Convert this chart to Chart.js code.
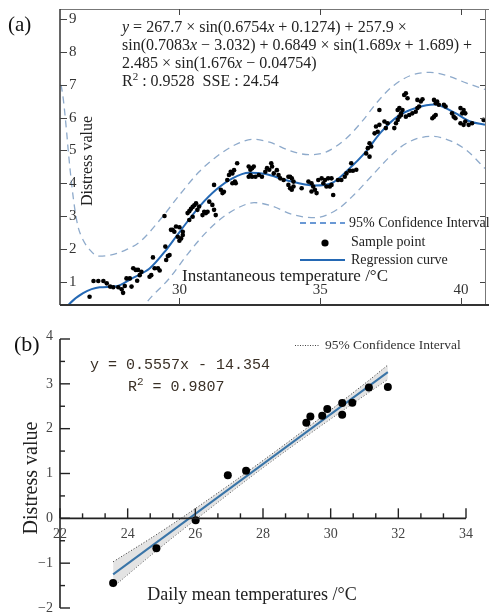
<!DOCTYPE html>
<html>
<head>
<meta charset="utf-8">
<script src="https://cdn.jsdelivr.net/npm/chart.js@4.4.1/dist/chart.umd.min.js"></script>
<style>
  html, body { margin: 0; padding: 0; background: #fff; }
  #wrap { position: relative; width: 489px; height: 612px; overflow: hidden; }
  canvas { position: absolute; left: 0; }
  #chartA { top: 0; }
  #chartB { top: 318px; }
</style>
</head>
<body>
<div id="wrap">
  <canvas id="chartA" width="489" height="315"></canvas>
  <canvas id="chartB" width="489" height="294"></canvas>
</div>
<script>
// --- (a) instantaneous temperature vs distress value ---
const sampleTempA = [26.81, 26.95, 27.12, 27.30, 27.42, 27.54, 27.65, 27.83, 27.95, 28.00, 28.06, 28.12, 28.24, 28.30, 28.36, 28.45, 28.50, 28.53, 28.59, 28.65,
  28.94, 29.00, 29.06, 29.12, 29.24, 29.30, 29.47, 29.50, 29.53, 29.59, 29.65, 29.70, 29.76, 29.82, 29.88, 29.94, 30.00, 30.00, 30.06, 30.12,
  30.12, 30.29, 30.35, 30.35, 30.41, 30.47, 30.47, 30.53, 30.59, 30.64, 30.70, 30.82, 30.88, 30.94, 31.00, 31.06, 31.17, 31.23, 31.23, 31.29,
  31.47, 31.53, 31.58, 31.70, 31.76, 31.82, 31.88, 31.88, 31.94, 31.97, 32.00, 32.05, 32.46, 32.46, 32.52, 32.52, 32.58, 32.58, 32.64, 32.70,
  32.82, 32.93, 33.05, 33.11, 33.19, 33.26, 33.29, 33.35, 33.46, 33.52, 33.58, 33.70, 33.87, 33.87, 33.93, 33.93, 33.99, 33.99, 34.05, 34.05,
  34.34, 34.58, 34.69, 34.69, 34.75, 34.81, 34.87, 34.93, 35.05, 35.11, 35.17, 35.22, 35.28, 35.34, 35.40, 35.40, 35.46, 35.63, 35.75, 35.87,
  35.93, 36.05, 36.10, 36.16, 36.28, 36.63, 36.69, 36.75, 36.75, 36.81, 36.93, 36.98, 37.04, 37.10, 37.10, 37.28, 37.33, 37.39, 37.63, 37.69,
  37.75, 37.75, 37.81, 37.81, 37.87, 37.87, 37.92, 37.98, 38.04, 38.04, 38.10, 38.16, 38.27, 38.39, 38.45, 38.45, 38.51, 38.57, 38.63, 38.98,
  39.04, 39.04, 39.10, 39.10, 39.15, 39.21, 39.39, 39.45, 39.68, 39.74, 39.80, 39.98, 39.98, 40.04, 40.09, 40.09, 40.15, 40.15, 40.27, 40.39, 40.80];
const sampleDistressA = [0.54, 1.02, 1.02, 1.02, 0.95, 0.85, 0.83, 0.83, 0.77, 0.66, 0.87, 1.10, 1.10, 0.85, 1.41, 1.36, 1.03, 1.36, 1.20, 1.30,
  1.15, 1.20, 1.74, 1.41, 1.41, 1.34, 3.00, 2.07, 1.66, 1.78, 1.81, 2.58, 2.58, 2.52, 2.68, 2.37, 2.25, 2.66, 2.32, 2.42,
  2.52, 3.09, 2.88, 3.15, 3.22, 2.98, 3.28, 3.33, 3.39, 3.19, 3.29, 3.03, 3.13, 3.09, 3.13, 3.44, 3.34, 3.19, 3.95, 3.03,
  3.80, 3.70, 3.74, 4.10, 4.25, 4.35, 4.30, 4.00, 4.40, 4.05, 4.00, 4.61, 4.51, 4.20, 4.41, 4.25, 4.46, 4.20, 4.51, 4.20,
  4.25, 4.20, 4.35, 4.46, 4.41, 4.61, 4.51, 4.30, 4.40, 4.25, 4.15, 4.10, 3.95, 4.20, 3.85, 4.20, 3.80, 4.15, 3.90, 4.05,
  3.85, 4.05, 4.00, 3.75, 3.90, 3.80, 3.70, 4.10, 4.15, 4.00, 4.10, 3.90, 4.15, 3.90, 4.15, 3.95, 3.64, 4.10, 4.10, 4.20,
  4.30, 4.38, 4.61, 4.38, 4.41, 4.91, 5.07, 5.22, 4.81, 5.12, 5.52, 5.73, 5.57, 5.78, 6.23, 5.88, 5.68, 5.83, 5.68, 5.83,
  5.93, 6.23, 6.03, 6.29, 6.08, 6.13, 6.23, 6.69, 6.74, 6.03, 6.59, 6.08, 6.13, 6.18, 6.29, 6.54, 6.34, 6.49, 6.56, 5.98,
  6.54, 6.03, 6.44, 6.08, 6.49, 6.39, 6.39, 6.34, 6.13, 6.03, 5.98, 6.29, 5.83, 6.13, 6.23, 5.78, 6.13, 5.88, 5.78, 5.83, 5.93];

const curveTempA = [25.76, 26.06, 26.58, 27.17, 27.76, 28.35, 28.94, 29.54, 29.88, 30.30, 30.71, 31.30, 31.88, 32.47, 33.06, 33.77, 34.80, 35.40, 36.00, 36.60, 37.15, 37.75, 38.45, 39.05, 39.75, 40.30, 40.85];
const curveDistressA = [-0.10, 0.29, 0.65, 0.83, 0.86, 1.12, 1.40, 1.98, 2.37, 2.85, 3.29, 3.80, 4.15, 4.32, 4.28, 4.10, 3.93, 4.00, 4.42, 4.94, 5.55, 6.04, 6.31, 6.40, 6.16, 5.89, 5.78];

const ciUpperTempA = [25.80, 25.88, 26.00, 26.05, 26.17, 26.29, 26.40, 26.58, 26.82, 27.11, 27.50, 28.10, 28.60, 29.40, 30.00, 30.70, 31.30, 32.00, 32.60, 33.20, 33.90, 34.60, 35.20, 35.90, 36.50, 37.00, 37.55, 38.20, 38.90, 39.60, 40.20, 40.85];
const ciUpperA = [7.00, 6.54, 5.52, 5.02, 4.00, 3.19, 2.68, 2.27, 1.97, 1.78, 1.80, 1.97, 2.22, 2.98, 3.64, 4.35, 4.80, 5.18, 5.34, 5.25, 5.00, 4.87, 4.95, 5.35, 5.90, 6.45, 6.94, 7.28, 7.38, 7.25, 7.05, 6.86];
const ciLowerTempA = [28.40, 28.82, 29.65, 30.30, 31.00, 31.60, 32.20, 32.65, 33.30, 34.00, 34.80, 35.60, 36.20, 36.80, 37.40, 37.85, 38.40, 39.00, 39.60, 40.20, 40.85];
const ciLowerA = [-0.20, 0.35, 1.11, 1.85, 2.55, 3.00, 3.30, 3.41, 3.30, 3.05, 2.95, 3.20, 3.65, 4.20, 4.75, 5.10, 5.35, 5.43, 5.30, 5.00, 4.45];

const xTicksA = [30, 35, 40];
const yTicksA = [1, 2, 3, 4, 5, 6, 7, 8, 9];

// --- (b) daily mean temperature vs distress value ---
const sampleTempB = [23.57, 24.85, 26.01, 26.96, 27.50, 29.28, 29.40, 29.75, 29.90, 30.34, 30.34, 30.64, 31.13, 31.69];
const sampleDistressB = [-1.44, -0.67, -0.04, 0.96, 1.06, 2.13, 2.27, 2.29, 2.44, 2.57, 2.31, 2.58, 2.92, 2.93];
const fitTempB = [23.57, 31.69];
const fitDistressB = [-1.25, 3.26];
const bandTempB = [23.57, 25.0, 26.5, 28.0, 29.5, 31.0, 31.69];
const bandUpperB = [-0.97, -0.29, 0.48, 1.29, 2.13, 3.00, 3.42];
const bandLowerB = [-1.53, -0.63, 0.26, 1.13, 1.95, 2.74, 3.10];

const xTicksB = [22, 24, 26, 28, 30, 32, 34];
const yTicksB = [-2, -1, 0, 1, 2, 3, 4];

const serif = "'Liberation Serif', 'Times New Roman', serif";

function pts(xs, ys) {
    return xs.map((x, i) => ({ x: x, y: ys[i] }));
}

// draw a line of text made of differently styled pieces
function drawRuns(ctx, parts, x, y) {
    let cx = x;
    parts.forEach(([text, font, dy]) => {
        ctx.font = font;
        ctx.fillText(text, cx, y + (dy || 0));
        cx += ctx.measureText(text).width;
    });
}

function seg(ctx, x1, y1, x2, y2) {
    ctx.beginPath();
    ctx.moveTo(x1, y1);
    ctx.lineTo(x2, y2);
    ctx.stroke();
}

const baseOptions = (pad, xr, yr) => ({
    responsive: false,
    animation: false,
    devicePixelRatio: 1,
    layout: { padding: pad },
    plugins: { legend: { display: false }, tooltip: { enabled: false } },
    scales: {
        x: { type: 'linear', min: xr[0], max: xr[1], display: false },
        y: { type: 'linear', min: yr[0], max: yr[1], display: false }
    }
});

// ---------- panel (a) axes / texts ----------
const decorA = {
    id: 'decorA',
    afterDraw(chart) {
        const { ctx, chartArea: a, scales: { x, y } } = chart;
        ctx.save();

        // frame
        ctx.strokeStyle = '#777';
        ctx.lineWidth = 1;
        seg(ctx, a.left, a.top + 0.5, 489, a.top + 0.5);
        seg(ctx, a.right + 0.5, a.top, a.right + 0.5, a.bottom);
        ctx.strokeStyle = '#333';
        ctx.lineWidth = 1.5;
        seg(ctx, a.left, a.top, a.left, a.bottom);
        ctx.lineWidth = 2;
        seg(ctx, a.left, a.bottom, 489, a.bottom);

        // inward ticks
        ctx.lineWidth = 1;
        ctx.strokeStyle = '#444';
        yTicksA.forEach(v => {
            const py = Math.round(y.getPixelForValue(v)) + 0.5;
            seg(ctx, a.left, py, a.left + 7, py);
            seg(ctx, a.right, py, a.right - 5, py);
        });
        xTicksA.forEach(v => {
            const px = Math.round(x.getPixelForValue(v)) + 0.5;
            seg(ctx, px, a.top, px, a.top + 6);
            seg(ctx, px, a.bottom, px, a.bottom - 7);
        });

        // tick labels
        ctx.fillStyle = '#333';
        ctx.font = `15px ${serif}`;
        ctx.textBaseline = 'middle';
        ctx.textAlign = 'left';
        yTicksA.forEach(v => ctx.fillText(String(v), a.left + 9, y.getPixelForValue(v)));
        ctx.textAlign = 'center';
        xTicksA.forEach(v => ctx.fillText(String(v), x.getPixelForValue(v), a.bottom - 15));

        // axis titles
        ctx.fillStyle = '#222';
        ctx.font = `17px ${serif}`;
        ctx.textAlign = 'left';
        ctx.fillText('Instantaneous temperature /°C', 182, 277);
        ctx.save();
        ctx.translate(88, 161);
        ctx.rotate(-Math.PI / 2);
        ctx.textAlign = 'center';
        ctx.font = `16px ${serif}`;
        ctx.fillText('Distress value', 0, 0);
        ctx.restore();

        // panel letter
        ctx.textAlign = 'left';
        ctx.textBaseline = 'alphabetic';
        ctx.font = `21px ${serif}`;
        ctx.fillStyle = '#111';
        ctx.fillText('(a)', 8, 31);

        // fitted equation
        const N = `16px ${serif}`, I = `italic 16px ${serif}`, S = `11px ${serif}`;
        ctx.fillStyle = '#222';
        drawRuns(ctx, [['y', I], [' = 267.7 × sin(0.6754', N], ['x', I], [' + 0.1274) + 257.9 ×', N]], 122, 32);
        drawRuns(ctx, [['sin(0.7083', N], ['x', I], [' − 3.032) + 0.6849 × sin(1.689', N], ['x', I], [' + 1.689) +', N]], 122, 50);
        drawRuns(ctx, [['2.485 × sin(1.676', N], ['x', I], [' − 0.04754)', N]], 122, 68);
        drawRuns(ctx, [['R', N], ['2', S, -6], [' : 0.9528  SSE : 24.54', N]], 122, 86);

        // legend
        ctx.strokeStyle = '#3a78c8';
        ctx.lineWidth = 1.5;
        ctx.setLineDash([6, 4]);
        seg(ctx, 300, 223, 345, 223);
        ctx.setLineDash([]);
        ctx.fillStyle = '#000';
        ctx.beginPath();
        ctx.arc(325, 243, 3.6, 0, Math.PI * 2);
        ctx.fill();
        ctx.strokeStyle = '#2468b4';
        ctx.lineWidth = 2;
        seg(ctx, 300, 260, 345, 260);
        ctx.fillStyle = '#222';
        ctx.font = `14px ${serif}`;
        ctx.textBaseline = 'middle';
        ctx.fillText('95% Confidence Interval', 349, 223);
        ctx.fillText('Sample point', 351, 242);
        ctx.fillText('Regression curve', 351, 260);
        ctx.restore();
    }
};

new Chart(document.getElementById('chartA'), {
    type: 'scatter',
    data: {
        datasets: [
            {
                label: 'Sample point',
                data: pts(sampleTempA, sampleDistressA),
                pointRadius: 2.3,
                pointBackgroundColor: '#000',
                pointBorderWidth: 0,
                order: 0
            },
            {
                label: 'Regression curve',
                data: pts(curveTempA, curveDistressA),
                showLine: true,
                borderColor: '#2468b4',
                borderWidth: 2,
                pointRadius: 0,
                cubicInterpolationMode: 'monotone',
                order: 1
            },
            {
                label: '95% CI upper',
                data: pts(ciUpperTempA, ciUpperA),
                showLine: true,
                borderColor: '#8eaacb',
                borderWidth: 1.3,
                borderDash: [7, 5],
                pointRadius: 0,
                cubicInterpolationMode: 'monotone',
                order: 2
            },
            {
                label: '95% CI lower',
                data: pts(ciLowerTempA, ciLowerA),
                showLine: true,
                borderColor: '#8eaacb',
                borderWidth: 1.3,
                borderDash: [7, 5],
                pointRadius: 0,
                cubicInterpolationMode: 'monotone',
                order: 2
            }
        ]
    },
    options: baseOptions({ left: 60, top: 9, right: 2, bottom: 10 }, [25.76, 40.85], [0.29, 9.31]),
    plugins: [decorA]
});

// ---------- panel (b) axes / texts ----------
const decorB = {
    id: 'decorB',
    afterDraw(chart) {
        const { ctx, chartArea: a, scales: { x, y } } = chart;
        ctx.save();
        const y0 = y.getPixelForValue(0);

        // axes
        ctx.strokeStyle = '#222';
        ctx.lineWidth = 1.6;
        seg(ctx, a.left, a.top, a.left, a.bottom);
        seg(ctx, a.left, y0, a.right, y0);

        // y ticks (major + half-step minor), pointing right
        ctx.lineWidth = 1.4;
        yTicksB.forEach((v, i) => {
            const py = y.getPixelForValue(v);
            seg(ctx, a.left, py, a.left + 10, py);
            if (i < yTicksB.length - 1) {
                const pm = y.getPixelForValue(v + 0.5);
                seg(ctx, a.left, pm, a.left + 5, pm);
            }
        });
        // x ticks (major + thirds), pointing up
        xTicksB.forEach((v, i) => {
            const px = x.getPixelForValue(v);
            seg(ctx, px, y0, px, y0 - 10);
            if (i < xTicksB.length - 1) {
                [2 / 3, 4 / 3].forEach(d => {
                    const pm = x.getPixelForValue(v + d);
                    seg(ctx, pm, y0, pm, y0 - 5);
                });
            }
        });

        // tick labels
        ctx.fillStyle = '#444';
        ctx.font = `14px ${serif}`;
        ctx.textBaseline = 'middle';
        ctx.textAlign = 'right';
        yTicksB.forEach(v => ctx.fillText(v < 0 ? '−' + Math.abs(v) : String(v), a.left - 7, y.getPixelForValue(v) - (v === 4 ? 3 : 0)));
        ctx.textAlign = 'center';
        xTicksB.forEach(v => ctx.fillText(String(v), x.getPixelForValue(v), y0 + 16));

        // axis titles
        ctx.fillStyle = '#222';
        ctx.font = `18px ${serif}`;
        ctx.fillText('Daily mean temperatures /°C', 252, 277);
        ctx.save();
        ctx.translate(32, 160);
        ctx.rotate(-Math.PI / 2);
        ctx.font = `20px ${serif}`;
        ctx.fillText('Distress value', 0, 0);
        ctx.restore();

        // panel letter
        ctx.textAlign = 'left';
        ctx.textBaseline = 'alphabetic';
        ctx.fillStyle = '#111';
        ctx.font = `22px ${serif}`;
        ctx.fillText('(b)', 14, 33);

        // fitted equation
        const M = "15px 'Liberation Mono', 'Courier New', monospace";
        ctx.fillStyle = '#3a3026';
        ctx.textBaseline = 'middle';
        drawRuns(ctx, [['y = 0.5557x - 14.354', M]], 90, 47);
        drawRuns(ctx, [['R', M], ['2', "11px 'Liberation Mono', monospace", -5], [' = 0.9807', M]], 128, 69);

        // legend
        ctx.strokeStyle = '#444';
        ctx.lineWidth = 1;
        ctx.setLineDash([1, 1.5]);
        seg(ctx, 295, 27.5, 319, 27.5);
        ctx.setLineDash([]);
        ctx.fillStyle = '#333';
        ctx.font = `13.5px ${serif}`;
        ctx.fillText('95% Confidence Interval', 325, 27);
        ctx.restore();
    }
};

new Chart(document.getElementById('chartB'), {
    type: 'scatter',
    data: {
        datasets: [
            {
                label: 'Sample point',
                data: pts(sampleTempB, sampleDistressB),
                pointRadius: 4,
                pointBackgroundColor: '#000',
                pointBorderWidth: 0,
                order: 0
            },
            {
                label: 'Fit',
                data: pts(fitTempB, fitDistressB),
                showLine: true,
                borderColor: '#3a75a8',
                borderWidth: 2,
                pointRadius: 0,
                order: 1
            },
            {
                label: '95% CI upper',
                data: pts(bandTempB, bandUpperB),
                showLine: true,
                borderColor: '#333',
                borderWidth: 1,
                borderDash: [1, 2],
                backgroundColor: 'rgba(200,200,200,0.5)',
                fill: '+1',
                tension: 0.4,
                pointRadius: 0,
                order: 2
            },
            {
                label: '95% CI lower',
                data: pts(bandTempB, bandLowerB),
                showLine: true,
                borderColor: '#333',
                borderWidth: 1,
                borderDash: [1, 2],
                tension: 0.4,
                pointRadius: 0,
                order: 3
            }
        ]
    },
    options: baseOptions({ left: 60, top: 21, right: 23, bottom: 4 }, [22, 34], [-2, 4]),
    plugins: [decorB]
});
</script>
</body>
</html>
